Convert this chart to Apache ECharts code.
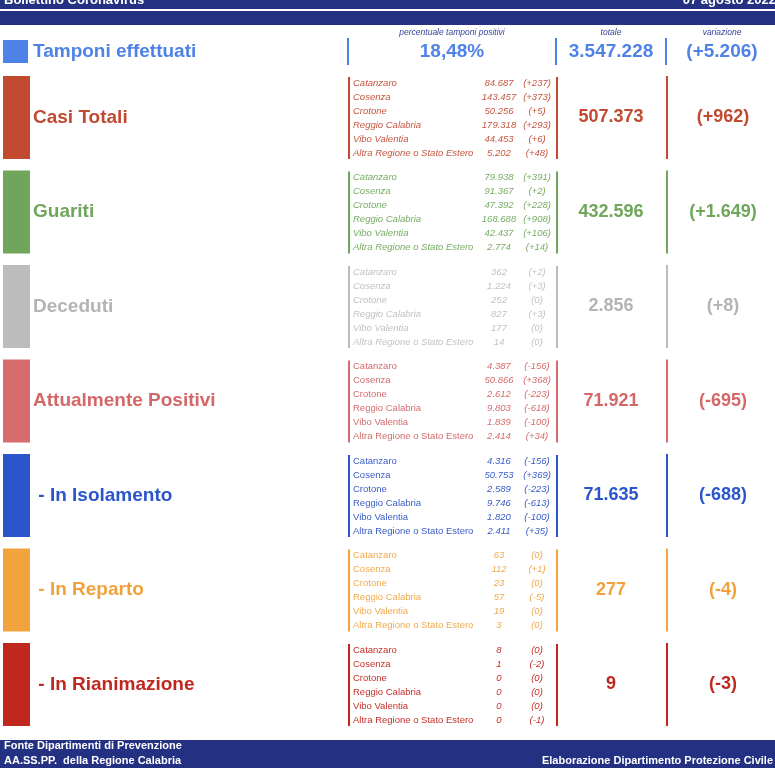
<!DOCTYPE html>
<html>
<head>
<meta charset="utf-8">
<script src="https://cdn.jsdelivr.net/npm/echarts@6/dist/echarts.min.js"></script>
<style>
  html, body { margin: 0; padding: 0; background: #fff; }
  #chart { width: 775px; height: 768px; }
</style>
</head>
<body>
<div id="chart"></div>
<script>
// dati bollettino 07 agosto 2022
const titolo = "Bollettino Coronavirus";
const data = "07 agosto 2022";
const province = ["Catanzaro", "Cosenza", "Crotone", "Reggio Calabria", "Vibo Valentia", "Altra Regione o Stato Estero"];
const sezioni = ["Casi Totali", "Guariti", "Deceduti", "Attualmente Positivi", " - In Isolamento", " - In Reparto", " - In Rianimazione"];

const tamponiPercPositivi = 18.48;
const tamponiTotale = 3547228;
const tamponiVariazione = 5206;

const casiTotali = [84687, 143457, 50256, 179318, 44453, 5202];
const casiTotaliVar = [237, 373, 5, 293, 6, 48];
const guariti = [79938, 91367, 47392, 168688, 42437, 2774];
const guaritiVar = [391, 2, 228, 908, 106, 14];
const deceduti = [362, 1224, 252, 827, 177, 14];
const decedutiVar = [2, 3, 0, 3, 0, 0];
const positivi = [4387, 50866, 2612, 9803, 1839, 2414];
const positiviVar = [-156, 368, -223, -618, -100, 34];
const isolamento = [4316, 50753, 2589, 9746, 1820, 2411];
const isolamentoVar = [-156, 369, -223, -613, -100, 35];
const reparto = [63, 112, 23, 57, 19, 3];
const repartoVar = [0, 1, 0, -5, 0, 0];
const rianimazione = [8, 1, 0, 0, 0, 0];
const rianimazioneVar = [0, -2, 0, 0, 0, -1];

const totali = [507373, 432596, 2856, 71921, 71635, 277, 9];
const totaliVar = [962, 1649, 8, -695, -688, -4, -3];

const colori = ["#c14a31", "#6fa65b", "#bcbcbc", "#d66c6c", "#2b56cb", "#f2a33c", "#c0281f"];
const coloriTesto = ["#c14a31", "#6fa65b", "#b4b4b4", "#d46868", "#2b56cb", "#f0a23a", "#c0281f"];
const coloriPiccoli = ["#c6553e", "#78ad64", "#c2c2c2", "#d46c6c", "#3a5cc6", "#f0aa4c", "#c4302a"];
const nomiCorsivi = [true, true, true, false, false, false, false];

const valori = [casiTotali, guariti, deceduti, positivi, isolamento, reparto, rianimazione];
const variazioni = [casiTotaliVar, guaritiVar, decedutiVar, positiviVar, isolamentoVar, repartoVar, rianimazioneVar];

const NAVY = "#243081";
const BLU = "#4f82e6";
const FONT = "'Liberation Sans', Arial, Helvetica, sans-serif";

function fmt(n) {
  return String(n).replace(/\B(?=(\d{3})+(?!\d))/g, ".");
}
function fmtVar(n) {
  return "(" + (n > 0 ? "+" : "") + fmt(n) + ")";
}

function testo(x, y, t, opts) {
  return {
    type: "text",
    silent: true,
    style: Object.assign({
      x: x, y: y, text: t,
      fontFamily: FONT,
      fontSize: 10,
      fill: "#000",
      textAlign: "left",
      textVerticalAlign: "middle"
    }, opts)
  };
}
function linea(x, y1, y2, color) {
  return {
    type: "line", silent: true,
    shape: { x1: x, y1: y1, x2: x, y2: y2 },
    style: { stroke: color, lineWidth: 2 }
  };
}

const elements = [];

// intestazione
elements.push({ type: "rect", shape: { x: 0, y: 0, width: 775, height: 9 }, style: { fill: NAVY } });
elements.push({ type: "rect", shape: { x: 0, y: 11, width: 775, height: 14 }, style: { fill: NAVY } });
elements.push(testo(4, 0, titolo, { fill: "#fff", fontWeight: "bold", fontSize: 13 }));
elements.push(testo(776, 0, data, { fill: "#fff", fontWeight: "bold", fontSize: 13, textAlign: "right" }));

// riga tamponi
elements.push({ type: "rect", shape: { x: 3, y: 40, width: 25, height: 23 }, style: { fill: BLU } });
elements.push(testo(33, 52, "Tamponi effettuati", { fill: BLU, fontWeight: "bold", fontSize: 19 }));
elements.push(testo(452, 33, "percentuale tamponi positivi", { fill: "#34449a", fontStyle: "italic", fontSize: 8.5, textAlign: "center" }));
elements.push(testo(611, 33, "totale", { fill: "#34449a", fontStyle: "italic", fontSize: 8.5, textAlign: "center" }));
elements.push(testo(722, 33, "variazione", { fill: "#34449a", fontStyle: "italic", fontSize: 8.5, textAlign: "center" }));
elements.push(linea(348, 38, 65, BLU));
elements.push(linea(556, 38, 65, BLU));
elements.push(linea(666, 38, 65, BLU));
elements.push(testo(452, 52, String(tamponiPercPositivi).replace(".", ",") + "%", { fill: BLU, fontWeight: "bold", fontSize: 19, textAlign: "center" }));
elements.push(testo(611, 52, fmt(tamponiTotale), { fill: BLU, fontWeight: "bold", fontSize: 19, textAlign: "center" }));
elements.push(testo(722, 52, fmtVar(tamponiVariazione), { fill: BLU, fontWeight: "bold", fontSize: 19, textAlign: "center" }));

// sezioni
sezioni.forEach((nome, i) => {
  const top = 76 + i * 94.5;
  elements.push({ type: "rect", shape: { x: 3, y: top, width: 27, height: 83 }, style: { fill: colori[i] } });
  elements.push(testo(33, top + 41.5, nome, { fill: coloriTesto[i], fontWeight: "bold", fontSize: 19 }));
  elements.push(linea(349, top + 1, top + 83, colori[i]));
  elements.push(linea(557, top + 1, top + 83, colori[i]));
  elements.push(linea(667, top, top + 83, colori[i]));
  province.forEach((p, j) => {
    const y = top + 7 + j * 14;
    elements.push(testo(353, y, p, { fill: coloriPiccoli[i], fontSize: 9.5, fontStyle: nomiCorsivi[i] ? "italic" : "normal" }));
    elements.push(testo(499, y, fmt(valori[i][j]), { fill: coloriPiccoli[i], fontSize: 9.5, fontStyle: "italic", textAlign: "center" }));
    elements.push(testo(537, y, fmtVar(variazioni[i][j]), { fill: coloriPiccoli[i], fontSize: 9.5, fontStyle: "italic", textAlign: "center" }));
  });
  elements.push(testo(611, top + 41.5, fmt(totali[i]), { fill: coloriTesto[i], fontWeight: "bold", fontSize: 18, textAlign: "center" }));
  elements.push(testo(723, top + 41.5, fmtVar(totaliVar[i]), { fill: coloriTesto[i], fontWeight: "bold", fontSize: 18, textAlign: "center" }));
});

// piè di pagina
elements.push({ type: "rect", shape: { x: 0, y: 740, width: 775, height: 28 }, style: { fill: NAVY } });
elements.push(testo(4, 746, "Fonte Dipartimenti di Prevenzione", { fill: "#fff", fontWeight: "bold", fontSize: 11 }));
elements.push(testo(4, 761, "AA.SS.PP.  della Regione Calabria", { fill: "#fff", fontWeight: "bold", fontSize: 11 }));
elements.push(testo(773, 761, "Elaborazione Dipartimento Protezione Civile", { fill: "#fff", fontWeight: "bold", fontSize: 11, textAlign: "right" }));

const chart = echarts.init(document.getElementById("chart"));
chart.setOption({
  animation: false,
  backgroundColor: "#fff",
  graphic: { elements: elements }
});

window.addEventListener("resize", () => {
  chart.resize();
});
</script>
</body>
</html>
